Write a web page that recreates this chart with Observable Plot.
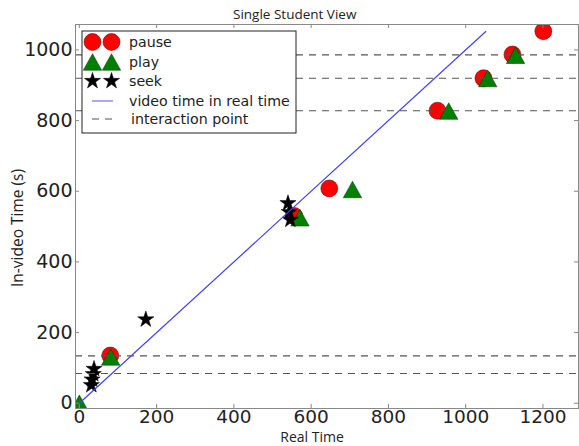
<!DOCTYPE html>
<html>
<head>
<meta charset="utf-8">
<script src="https://cdn.jsdelivr.net/npm/d3@7"></script>
<script src="https://cdn.jsdelivr.net/npm/@observablehq/plot@0.6"></script>
<style>
  html, body { margin: 0; padding: 0; background: white; }
  #chart svg { display: block; }
</style>
</head>
<body>
<div id="chart"></div>
<script>
// Data
const pauseX = [80, 556, 647, 927, 1046, 1121, 1201];
const pauseY = [135, 530, 608, 828, 920, 987, 1053];
const playX = [0, 81, 571, 707, 956, 1057, 1129];
const playY = [0, 131, 525, 605, 827, 919, 985];
const seekX = [38, 36, 33, 31, 172, 540, 543, 546];
const seekY = [97, 82, 67, 51, 237, 566, 541, 519];
const lineX = [0, 1052];
const lineY = [0, 1052];
const interactionY = [84, 134, 828, 920, 986];
const xTicks = [0, 200, 400, 600, 800, 1000, 1200];
const yTicks = [0, 200, 400, 600, 800, 1000];

const pause = pauseX.map((x, i) => ({x, y: pauseY[i]}));
const play = playX.map((x, i) => ({x, y: playY[i]}));
const seek = seekX.map((x, i) => ({x, y: seekY[i]}));
const line = lineX.map((x, i) => ({x, y: lineY[i]}));

// matplotlib-like triangle, centered on its bounding box
const triangle = {
  draw(ctx, size) {
    const r = Math.sqrt(size / Math.PI);
    const w = r, h = r * 0.9;
    ctx.moveTo(0, -h);
    ctx.lineTo(w, h);
    ctx.lineTo(-w, h);
    ctx.closePath();
  }
};

const W = 579, H = 446;
const mT = 24, mR = 1, mB = 38, mL = 75;
const pw = W - mL - mR, ph = H - mT - mB;

const chart = Plot.plot({
  width: W, height: H,
  marginTop: mT, marginRight: mR, marginBottom: mB, marginLeft: mL,
  x: {domain: [-10, 1292]},
  y: {domain: [-15, 1072]},
  style: {fontFamily: "DejaVu Sans", background: "white", color: "#222"},
  marks: [
    Plot.dot(pause, {x: "x", y: "y", r: 8.5, symbol: "circle", fill: "#ff0000", stroke: "#400", strokeWidth: 0.5, clip: true}),
    Plot.dot(play, {x: "x", y: "y", r: 9.2, symbol: triangle, fill: "#008000", stroke: "#030", strokeWidth: 0.5, clip: true}),
    Plot.dot(seek, {x: "x", y: "y", r: 5.1, symbol: "star", fill: "#000", stroke: "#000", strokeWidth: 0.5, clip: true}),
    Plot.line(line, {x: "x", y: "y", stroke: "#4040ff", strokeWidth: 1.2, clip: true}),
    Plot.ruleY(interactionY, {stroke: "#555", strokeWidth: 1.1, strokeDasharray: "7,6"}),
    Plot.frame({stroke: "#888"}),
    Plot.tickX(xTicks, {x: d => d, stroke: "#888", insetTop: ph - 4}),
    Plot.tickX(xTicks, {x: d => d, stroke: "#888", insetBottom: ph - 4}),
    Plot.tickY(yTicks, {y: d => d, stroke: "#888", insetRight: pw - 4}),
    Plot.tickY(yTicks, {y: d => d, stroke: "#888", insetLeft: pw - 4}),
    Plot.axisX({ticks: xTicks, anchor: "bottom", tickSize: 0, tickPadding: 1, fontSize: 18.5, label: null, tickFormat: d => String(d)}),
    Plot.axisY({ticks: yTicks, anchor: "left", tickSize: 0, tickPadding: 3, fontSize: 19, label: null, tickFormat: d => String(d)})
  ]
});

document.getElementById("chart").appendChild(chart);

// Titles and legend
const svg = d3.select(chart);
svg.append("text")
  .attr("x", 233).attr("y", 19).attr("text-anchor", "start")
  .attr("font-family", "Open Sans").attr("font-size", 13.5).attr("fill", "#222")
  .text("Single Student View");
svg.append("text")
  .attr("x", 312).attr("y", 442).attr("text-anchor", "middle")
  .attr("font-family", "Open Sans").attr("font-size", 14).attr("fill", "#222")
  .text("Real Time");
svg.append("text")
  .attr("transform", "translate(23,228) rotate(-90)").attr("text-anchor", "middle")
  .attr("font-family", "Open Sans").attr("font-size", 15.5).attr("fill", "#222")
  .text("In-video Time (s)");

const lg = svg.append("g");
lg.append("rect").attr("x", 82).attr("y", 31).attr("width", 214).attr("height", 102)
  .attr("fill", "white").attr("stroke", "#222").attr("stroke-width", 1);
const mx = [92.5, 111.5];
const rows = [42, 62, 81, 101, 119];
const sym = (type, size) => { const p = d3.path(); type.draw(p, size); return p.toString(); };
mx.forEach(x => {
  lg.append("circle").attr("cx", x).attr("cy", rows[0]).attr("r", 8.5)
    .attr("fill", "#ff0000").attr("stroke", "#400").attr("stroke-width", 0.5);
  lg.append("path").attr("transform", `translate(${x},${rows[1]})`).attr("d", sym(triangle, Math.PI * 9.2 * 9.2))
    .attr("fill", "#008000").attr("stroke", "#030").attr("stroke-width", 0.5);
  lg.append("path").attr("transform", `translate(${x},${rows[2]})`).attr("d", sym(d3.symbolStar, Math.PI * 5.1 * 5.1))
    .attr("fill", "#000").attr("stroke", "#000").attr("stroke-width", 0.5);
});
lg.append("line").attr("x1", 92).attr("x2", 113).attr("y1", rows[3]).attr("y2", rows[3])
  .attr("stroke", "#7070ff").attr("stroke-width", 1.2);
lg.append("line").attr("x1", 92).attr("x2", 113).attr("y1", rows[4]).attr("y2", rows[4])
  .attr("stroke", "#555").attr("stroke-width", 1.1).attr("stroke-dasharray", "7,6");
const labels = ["pause", "play", "seek", "video time in real time", "interaction point"];
labels.forEach((t, i) => {
  lg.append("text").attr("x", t === "interaction point" ? 131 : 129).attr("y", rows[i] + 5)
    .attr("text-anchor", "start")
    .attr("font-family", "DejaVu Sans").attr("font-size", 14.2).attr("fill", "#222")
    .text(t);
});
</script>
</body>
</html>
